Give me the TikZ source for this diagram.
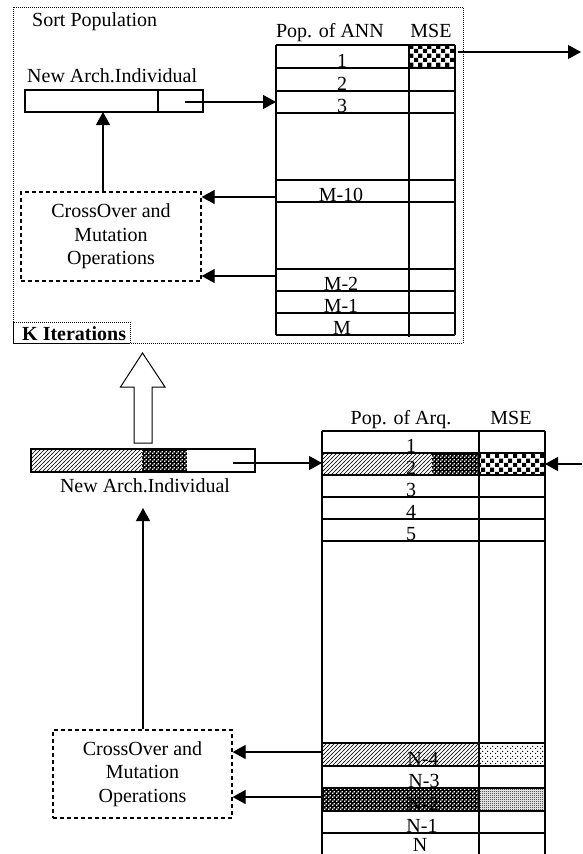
\documentclass[tikz,border=0pt]{standalone}
\usepackage{fontspec}
\setmainfont{Liberation Serif}
\usetikzlibrary{arrows.meta,patterns}
\pgfdeclarepatternformonly{bigcheck}{\pgfpointorigin}{\pgfqpoint{9pt}{9pt}}{\pgfqpoint{9pt}{9pt}}{%
  \pgfpathrectangle{\pgfpointorigin}{\pgfqpoint{4.5pt}{4.5pt}}%
  \pgfpathrectangle{\pgfqpoint{4.5pt}{4.5pt}}{\pgfqpoint{4.5pt}{4.5pt}}%
  \pgfusepath{fill}}
\pgfdeclarepatternformonly{wdots}{\pgfpointorigin}{\pgfqpoint{4pt}{4pt}}{\pgfqpoint{4pt}{4pt}}{%
  \pgfpathrectangle{\pgfpointorigin}{\pgfqpoint{1.6pt}{1.6pt}}%
  \pgfpathrectangle{\pgfqpoint{2pt}{2pt}}{\pgfqpoint{1.6pt}{1.6pt}}%
  \pgfusepath{fill}}
\pgfdeclarepatternformonly{sparsedots}{\pgfpointorigin}{\pgfqpoint{5pt}{5pt}}{\pgfqpoint{5pt}{5pt}}{%
  \pgfpathrectangle{\pgfpointorigin}{\pgfqpoint{1.2pt}{1.2pt}}%
  \pgfpathrectangle{\pgfqpoint{2.5pt}{2.5pt}}{\pgfqpoint{1.2pt}{1.2pt}}%
  \pgfusepath{fill}}
\pgfdeclarepatternformonly{graydots}{\pgfpointorigin}{\pgfqpoint{2pt}{2pt}}{\pgfqpoint{2pt}{2pt}}{%
  \pgfpathrectangle{\pgfpointorigin}{\pgfqpoint{1pt}{1pt}}%
  \pgfpathrectangle{\pgfqpoint{1pt}{1pt}}{\pgfqpoint{1pt}{1pt}}%
  \pgfusepath{fill}}
\pgfdeclarepatternformonly{hatchp}{\pgfqpoint{-1pt}{-1pt}}{\pgfqpoint{5pt}{5pt}}{\pgfqpoint{4pt}{4pt}}{%
  \pgfsetlinewidth{0.6pt}%
  \pgfpathmoveto{\pgfqpoint{-0.5pt}{-0.5pt}}%
  \pgfpathlineto{\pgfqpoint{4.5pt}{4.5pt}}%
  \pgfusepath{stroke}}
\begin{document}
\begin{tikzpicture}[x=1pt,y=-1pt,
  every node/.style={font=\fontsize{20}{23.5}\selectfont, inner sep=0pt},
  ln/.style={line width=1.2pt},
  arr/.style={line width=1.2pt,-{Triangle[length=13pt,width=14pt]}},
  opbox/.style={draw, dash pattern=on 4pt off 3pt, line width=1.2pt, align=center},
  dotframe/.style={draw, dash pattern=on 1pt off 1pt, line width=0.9pt},
  lbl/.style={anchor=base}]
\useasboundingbox (0,0) rectangle (582,854);
\fill[white] (0,0) rectangle (582,854);

% ---------- upper part ----------
\draw[dotframe] (13,7) rectangle (463,343);
\draw[dotframe] (13,322) rectangle (130,343);
\node[lbl, font=\bfseries\fontsize{20}{23.5}\selectfont, anchor=base west] (kit) at (22,340) {K Iterations};
\node[lbl, anchor=base west] (sortpop) at (32,26) {Sort Population};
\node[lbl, anchor=base west] (na1lbl) at (27,82) {New Arch.Individual};

% upper individual bar
\node[draw, ln, minimum width=178pt, minimum height=22pt] (ind1) at (114,101) {};
\draw[ln] (158,90) -- (158,112);
\coordinate (ind1p) at (185,102);

% upper table
\fill[pattern=bigcheck] (409,45) rectangle (455,68);
\draw[ln] (276,45) -- (276,335);
\draw[ln] (455,45) -- (455,335);
\draw[ln] (409,45) -- (409,337);
\foreach \y in {45,68,91,113,180,202,269,291,313,335}
  \draw[ln] (276,\y) -- (455,\y);
\node[lbl] (h1a) at (330,37) {Pop. of ANN};
\node[lbl] (h1b) at (431,37) {MSE};
\node[lbl] (u1) at (342,67) {1};
\node[lbl] (u2) at (342,90) {2};
\node[lbl] (u3) at (342,112) {3};
\node[lbl] (u10) at (341,201) {M-10};
\node[lbl] (um2) at (341,290) {M-2};
\node[lbl] (um1) at (341,312) {M-1};
\node[lbl] (um) at (342,334) {M};
\coordinate (t1r3) at (276,102);
\coordinate (t1m10) at (276,197);
\coordinate (t1m2) at (276,276);
\coordinate (t1mse) at (458,52);
\coordinate (outR) at (581,52);

% upper operations box
\node[opbox, minimum width=180pt, minimum height=89pt] (op1) at (111,236.5)
  {CrossOver and\\Mutation\\Operations};

\draw[arr] (ind1p) -- (t1r3);
\draw[arr] (t1mse) -- (outR);
\draw[arr] (op1.north -| 103,0) -- (103,112);
\draw[arr] (t1m10) -- (t1m10 -| op1.east);
\draw[arr] (t1m2) -- (t1m2 -| op1.east);

% hollow arrow
\draw[line width=1pt, fill=white] (134,443) -- (134,387) -- (120.5,387) -- (142.5,353)
  -- (165,387) -- (152,387) -- (152,443) -- cycle;

% ---------- lower part ----------
% lower bar
\fill[pattern=hatchp] (31,449) rectangle (142,472);
\fill[black] (142,449) rectangle (187,472);
\fill[pattern=wdots, pattern color=white] (142,449) rectangle (187,472);
\node[draw, ln, minimum width=224pt, minimum height=23pt] (ind2) at (143,460.5) {};
\coordinate (ind2p) at (233,463);
\node[lbl] (na2lbl) at (145,492) {New Arch.Individual};

% lower table fills
\fill[pattern=hatchp] (322,453) rectangle (432,475);
\fill[black] (432,453) rectangle (479,475);
\fill[pattern=wdots, pattern color=white] (432,453) rectangle (479,475);
\fill[pattern=bigcheck] (479,453) rectangle (545,475);
\fill[pattern=hatchp] (322,743) rectangle (479,766);
\fill[pattern=sparsedots] (479,743) rectangle (545,766);
\fill[black] (322,788) rectangle (479,811);
\fill[pattern=wdots, pattern color=white] (322,788) rectangle (479,811);
\fill[pattern=graydots] (479,788) rectangle (545,811);

\draw[ln] (322,431) -- (322,854);
\draw[ln] (479,431) -- (479,854);
\draw[ln] (545,431) -- (545,854);
\foreach \y in {431,453,475,497,519,541,743,766,788,811,833}
  \draw[ln] (322,\y) -- (545,\y);
\node[lbl] (h2a) at (401,424) {Pop. of Arq.};
\node[lbl] (h2b) at (511,424) {MSE};
\node[lbl] (l1) at (411,452) {1};
\node[lbl] (l2) at (411,474) {2};
\node[lbl] (l3) at (411,496) {3};
\node[lbl] (l4) at (411,518) {4};
\node[lbl] (l5) at (411,540) {5};
\node[lbl] (ln4) at (423,765) {N-4};
\node[lbl] (ln3) at (424,787) {N-3};
\node[lbl] (ln2) at (423,810) {N-2};
\node[lbl] (ln1) at (422,832) {N-1};
\node[lbl] (lnn) at (420,851) {N};
\coordinate (t2r2) at (322,463);
\coordinate (inR) at (582,464);
\coordinate (t2r2r) at (545,464);
\coordinate (t2n4) at (322,752);
\coordinate (t2n2) at (322,797);

% lower operations box
\node[opbox, minimum width=179pt, minimum height=88pt] (op2) at (142.5,774)
  {CrossOver and\\Mutation\\Operations};

\draw[arr] (ind2p) -- (t2r2);
\draw[arr] (inR) -- (t2r2r);
\draw[arr] (op2.north -| 143,0) -- (143,508);
\draw[arr] (t2n4) -- (t2n4 -| op2.east);
\draw[arr] (t2n2) -- (t2n2 -| op2.east);
\end{tikzpicture}
\end{document}
